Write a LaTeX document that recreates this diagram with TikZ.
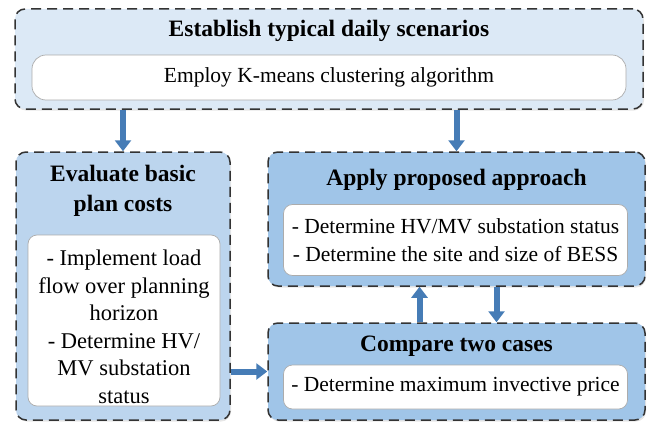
\documentclass[tikz,border=0pt]{standalone}
\usepackage{fontspec}
\setmainfont{Liberation Serif}
\usetikzlibrary{arrows.meta, positioning, shadows}

\definecolor{scenfill}{RGB}{220,233,246}
\definecolor{basicfill}{RGB}{188,213,238}
\definecolor{stepfill}{RGB}{160,197,232}
\definecolor{flowblue}{RGB}{70,124,182}

\begin{document}
\begin{tikzpicture}[
    x=1pt, y=-1pt,
    outer/.style={rectangle, rounded corners=10pt, draw=black!80, line width=1.5pt,
        dash pattern=on 10pt off 6pt, inner sep=0pt,
        drop shadow={opacity=0.2, shadow xshift=1pt, shadow yshift=-1.5pt}},
    inbox/.style={rectangle, rounded corners=9pt, draw=gray!65, fill=white, line width=0.7pt,
        inner sep=0pt, align=center, font=\fontsize{21.5}{28}\selectfont},
    ttl/.style={align=center, inner sep=0pt, font=\bfseries\fontsize{23.5}{30}\selectfont},
    flow/.style={-{Triangle[length=11pt, width=16pt]}, line width=6pt, flowblue}
]
\useasboundingbox (0,0) rectangle (652,428);

% Stage 1: scenarios
\node[outer, fill=scenfill, minimum width=628pt, minimum height=100pt] (scen) at (329,59) {};
\node[ttl] (scentitle) at (329,31) {Establish typical daily scenarios};
\node[inbox, rounded corners=14pt, minimum width=594pt, minimum height=45pt] (kmeans) at (329,77.5)
    {Employ K-means clustering algorithm};

% Stage 2: basic plan
\node[outer, fill=basicfill, minimum width=214pt, minimum height=268pt] (basic) at (123,286) {};
\node[ttl] (basictitle) at (123,191) {Evaluate basic\\plan costs};
\node[inbox, minimum width=192pt, minimum height=171pt] (basictext) at (124,320.5) {};
\node[align=center, inner sep=0pt, font=\fontsize{22.5}{27.5}\selectfont] (basiclines) at (124,327)
    {- Implement load\\flow over planning\\horizon\\- Determine HV/\\MV substation\\status};

% Stage 3: proposed approach
\node[outer, fill=stepfill, minimum width=377pt, minimum height=134pt] (apply) at (456.5,219) {};
\node[ttl] (applytitle) at (456.5,180) {Apply proposed approach};
\node[inbox, minimum width=344pt, minimum height=71pt] (applytext) at (455.5,240)
    {- Determine HV/MV substation status\\- Determine the site and size of BESS};

% Stage 4: comparison
\node[outer, fill=stepfill, minimum width=377pt, minimum height=97pt] (comp) at (456.5,371.5) {};
\node[ttl] (comptitle) at (456.5,346) {Compare two cases};
\node[inbox, minimum width=344pt, minimum height=44pt] (comptext) at (455.5,387)
    {- Determine maximum invective price};

% Arrows
\draw[flow] (basic.north |- scen.south) -- (basic.north);
\draw[flow] (apply.north |- scen.south) -- (apply.north);
\draw[flow] (basic.east |- comp.center) -- (comp.west);
\draw[flow] ([xshift=-37pt]comp.north) -- ([xshift=-37pt]apply.south);
\draw[flow] ([xshift=40pt]apply.south) -- ([xshift=40pt]comp.north);

\end{tikzpicture}
\end{document}
